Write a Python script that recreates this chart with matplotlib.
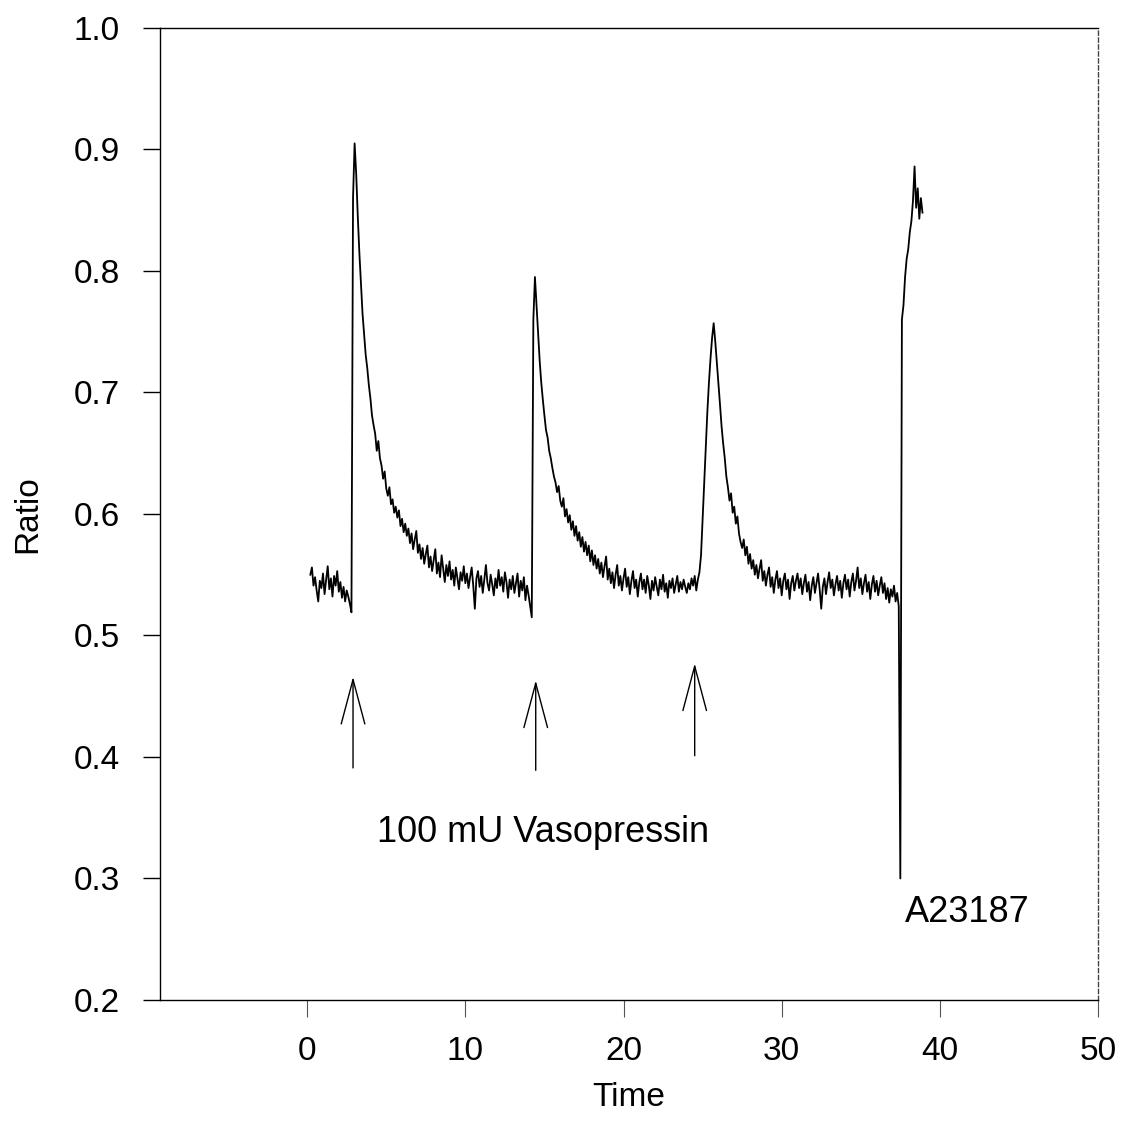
import numpy as np
import matplotlib
matplotlib.use("Agg")
import matplotlib.pyplot as plt

plt.rcParams['font.family'] = ['Liberation Sans', 'DejaVu Sans']

# fluorescence ratio trace, sampled every 0.1 time units starting at t = 0.2
t_start, t_step = 0.2, 0.1
ratio = [
    0.550, 0.556, 0.541, 0.548, 0.537, 0.528, 0.545, 0.539,                  # 0.2-0.9
    0.551, 0.534, 0.546, 0.557, 0.538, 0.547, 0.532, 0.549, 0.541, 0.553,    # 1
    0.536, 0.544, 0.531, 0.540, 0.528, 0.537, 0.532, 0.526, 0.519, 0.860,    # 2
    0.905, 0.880, 0.845, 0.815, 0.790, 0.765, 0.748, 0.731, 0.720, 0.706,    # 3
    0.695, 0.681, 0.673, 0.666, 0.652, 0.660, 0.646, 0.640, 0.629, 0.635,    # 4
    0.621, 0.615, 0.622, 0.608, 0.612, 0.601, 0.606, 0.597, 0.603, 0.590,    # 5
    0.596, 0.585, 0.592, 0.582, 0.588, 0.576, 0.584, 0.571, 0.579, 0.586,    # 6
    0.568, 0.575, 0.563, 0.572, 0.559, 0.567, 0.574, 0.556, 0.565, 0.553,    # 7
    0.562, 0.571, 0.551, 0.560, 0.548, 0.566, 0.555, 0.544, 0.558, 0.549,    # 8
    0.561, 0.546, 0.554, 0.541, 0.556, 0.547, 0.538, 0.552, 0.545, 0.557,    # 9
    0.543, 0.551, 0.539, 0.548, 0.556, 0.541, 0.522, 0.547, 0.553, 0.540,    # 10
    0.549, 0.535, 0.546, 0.558, 0.543, 0.537, 0.550, 0.542, 0.533, 0.547,    # 11
    0.539, 0.554, 0.541, 0.548, 0.536, 0.552, 0.544, 0.531, 0.546, 0.538,    # 12
    0.549, 0.535, 0.543, 0.551, 0.532, 0.545, 0.537, 0.548, 0.529, 0.541,    # 13
    0.533, 0.524, 0.515, 0.760, 0.795, 0.772, 0.748, 0.726, 0.708, 0.694,    # 14
    0.681, 0.669, 0.663, 0.652, 0.646, 0.638, 0.631, 0.626, 0.618, 0.623,    # 15
    0.611, 0.606, 0.613, 0.598, 0.604, 0.593, 0.599, 0.587, 0.594, 0.582,    # 16
    0.590, 0.578, 0.585, 0.573, 0.581, 0.569, 0.577, 0.566, 0.574, 0.561,    # 17
    0.570, 0.558, 0.566, 0.555, 0.563, 0.551, 0.560, 0.548, 0.557, 0.565,    # 18
    0.546, 0.555, 0.543, 0.552, 0.539, 0.550, 0.558, 0.541, 0.549, 0.537,    # 19
    0.547, 0.555, 0.540, 0.548, 0.534, 0.545, 0.553, 0.539, 0.546, 0.532,    # 20
    0.544, 0.551, 0.538, 0.546, 0.535, 0.549, 0.541, 0.530, 0.545, 0.537,    # 21
    0.548, 0.540, 0.533, 0.546, 0.538, 0.550, 0.536, 0.543, 0.531, 0.545,    # 22
    0.539, 0.547, 0.535, 0.542, 0.549, 0.536, 0.544, 0.538, 0.546, 0.540,    # 23
    0.535, 0.543, 0.538, 0.547, 0.541, 0.549, 0.537, 0.546, 0.552, 0.566,    # 24
    0.596, 0.628, 0.658, 0.684, 0.708, 0.728, 0.745, 0.757, 0.742, 0.725,    # 25
    0.708, 0.690, 0.672, 0.658, 0.646, 0.631, 0.622, 0.611, 0.617, 0.601,    # 26
    0.606, 0.592, 0.598, 0.584, 0.577, 0.572, 0.579, 0.566, 0.573, 0.559,    # 27
    0.567, 0.555, 0.562, 0.550, 0.558, 0.547, 0.555, 0.562, 0.545, 0.553,    # 28
    0.541, 0.550, 0.556, 0.540, 0.548, 0.535, 0.546, 0.553, 0.539, 0.547,    # 29
    0.533, 0.545, 0.551, 0.538, 0.546, 0.530, 0.543, 0.549, 0.537, 0.545,    # 30
    0.551, 0.539, 0.547, 0.534, 0.543, 0.550, 0.536, 0.544, 0.529, 0.541,    # 31
    0.548, 0.535, 0.543, 0.551, 0.538, 0.522, 0.540, 0.547, 0.534, 0.544,    # 32
    0.552, 0.539, 0.546, 0.533, 0.542, 0.549, 0.537, 0.545, 0.531, 0.543,    # 33
    0.550, 0.538, 0.546, 0.532, 0.544, 0.551, 0.537, 0.545, 0.556, 0.539,    # 34
    0.547, 0.534, 0.543, 0.550, 0.536, 0.544, 0.530, 0.542, 0.549, 0.536,    # 35
    0.545, 0.533, 0.541, 0.548, 0.535, 0.543, 0.530, 0.539, 0.527, 0.538,    # 36
    0.532, 0.541, 0.528, 0.535, 0.524, 0.300, 0.760, 0.772, 0.795, 0.810,    # 37
    0.818, 0.832, 0.841, 0.858, 0.886, 0.852, 0.868, 0.843, 0.860, 0.848,    # 38
]
time = t_start + t_step * np.arange(len(ratio))

# vasopressin additions: arrow x, tail y, tip y
arrow_x = [2.9, 14.45, 24.5]
arrow_tail = [0.391, 0.389, 0.401]
arrow_tip = [0.466, 0.463, 0.477]

xticks = [0, 10, 20, 30, 40, 50]
yticks = [0.2, 0.3, 0.4, 0.5, 0.6, 0.7, 0.8, 0.9, 1.0]

fig = plt.figure(figsize=(11.4, 11.41), dpi=100)
ax = fig.add_axes([0.1404, 0.1236, 0.8228, 0.8519])

ax.plot(time, ratio, color='black', lw=1.3)

for x, y0, y1 in zip(arrow_x, arrow_tail, arrow_tip):
    ax.annotate('', xy=(x, y1), xytext=(x, y0),
                arrowprops=dict(arrowstyle='->,head_length=3.2,head_width=0.85',
                                color='black', lw=1.0, mutation_scale=10,
                                shrinkA=0, shrinkB=0))

ax.text(4.4, 0.338, '100 mU Vasopressin', fontsize=26, va='center', ha='left')
ax.text(37.8, 0.272, 'A23187', fontsize=26, va='center', ha='left')

ax.set_xlim(-9.3, 50)
ax.set_ylim(0.2, 1.0)
ax.set_xticks(xticks)
ax.set_yticks(yticks)
ax.set_yticklabels(['{:.1f}'.format(v) for v in yticks])
ax.tick_params(axis='y', direction='out', length=12, width=1, pad=17, labelsize=24)
ax.tick_params(axis='x', direction='out', length=12, width=0.8, pad=14, labelsize=24,
               color='#555555')

ax.set_xlabel('Time', fontsize=24, labelpad=11)
ax.set_ylabel('Ratio', fontsize=24, labelpad=22)

for s in ax.spines.values():
    s.set_linewidth(1.0)
ax.spines['right'].set_linestyle((0, (3, 2)))
ax.spines['right'].set_color('#444444')
ax.spines['bottom'].set_linestyle((0, (8, 1)))

fig.savefig('out.png', dpi=100)
